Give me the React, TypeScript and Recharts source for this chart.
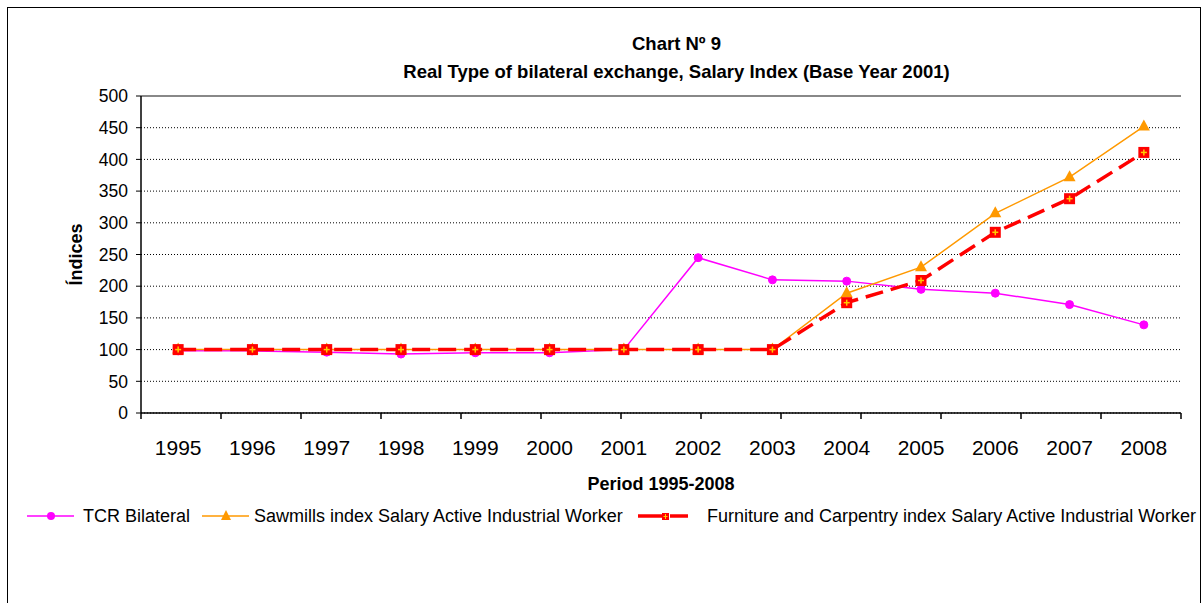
import { LineChart, Line, XAxis, YAxis, CartesianGrid, Legend, ReferenceLine } from "recharts";

const years = ["1995", "1996", "1997", "1998", "1999", "2000", "2001", "2002", "2003", "2004", "2005", "2006", "2007", "2008"];
const tcrBilateral = [98, 98, 96, 93, 95, 95, 100, 245, 210, 208, 195, 189, 171, 139];
const sawmills = [100, 100, 100, 100, 100, 100, 100, 100, 100, 189, 230, 315, 372, 452];
const furniture = [100, 100, 100, 100, 100, 100, 100, 100, 100, 174, 209, 285, 338, 411];
const yTicks = [0, 50, 100, 150, 200, 250, 300, 350, 400, 450, 500];

const seriesNames = {
  tcr: "TCR Bilateral",
  sawmills: "Sawmills index Salary Active Industrial Worker",
  furniture: "Furniture and Carpentry index Salary Active Industrial Worker",
};

const FONT = "'Liberation Sans', Arial, sans-serif";
const MAGENTA = "#FF00FF";
const ORANGE = "#FF9900";
const RED = "#FF0000";

const data = years.map((year, i) => ({
  pos: i + 0.5,
  year,
  tcr: tcrBilateral[i],
  sawmills: sawmills[i],
  furniture: furniture[i],
}));

// tick lines sit on the category edges, labels in the middle of each band
const bandEdges = Array.from({ length: years.length + 1 }, (_, i) => i);
const bandCenters = data.map((d) => d.pos);

function TriangleDot(props: any) {
  const { cx, cy } = props;
  if (cx == null || cy == null) return null;
  return <polygon points={`${cx},${cy - 7} ${cx + 6},${cy + 4} ${cx - 6},${cy + 4}`} fill={ORANGE} />;
}

function PlusSquareDot(props: any) {
  const { cx, cy } = props;
  if (cx == null || cy == null) return null;
  return (
    <g>
      <rect x={cx - 5.5} y={cy - 5.5} width={11} height={11} fill={RED} />
      <line x1={cx - 3} y1={cy} x2={cx + 3} y2={cy} stroke="#FFCC00" strokeWidth={1.5} />
      <line x1={cx} y1={cy - 3} x2={cx} y2={cy + 3} stroke="#FFCC00" strokeWidth={1.5} />
    </g>
  );
}

function LegendContent() {
  const text: any = { position: "absolute", top: 0, fontFamily: FONT, fontSize: 18, lineHeight: "20px", color: "#000", whiteSpace: "nowrap" };
  return (
    <div style={{ position: "relative", width: 1203, height: 20 }}>
      <svg style={{ position: "absolute", left: 27, top: 0 }} width={48} height={20}>
        <line x1={0} y1={10} x2={47} y2={10} stroke={MAGENTA} strokeWidth={1.5} />
        <circle cx={24} cy={10} r={4} fill={MAGENTA} />
      </svg>
      <span style={{ ...text, left: 83 }}>{seriesNames.tcr}</span>
      <svg style={{ position: "absolute", left: 202, top: 0 }} width={48} height={20}>
        <line x1={0} y1={10} x2={47} y2={10} stroke={ORANGE} strokeWidth={1.5} />
        <polygon points="24,4 29,14 19,14" fill={ORANGE} />
      </svg>
      <span style={{ ...text, left: 254 }}>{seriesNames.sawmills}</span>
      <svg style={{ position: "absolute", left: 638, top: 0 }} width={52} height={20}>
        <line x1={0} y1={10} x2={24} y2={10} stroke={RED} strokeWidth={3.5} />
        <line x1={32} y1={10} x2={50} y2={10} stroke={RED} strokeWidth={3.5} />
        <rect x={24} y={7} width={7} height={7} fill={RED} />
        <line x1={27.5} y1={8} x2={27.5} y2={13} stroke="#FFCC00" strokeWidth={1} />
        <line x1={25.5} y1={10.5} x2={29.5} y2={10.5} stroke="#FFCC00" strokeWidth={1} />
      </svg>
      <span style={{ ...text, left: 707 }}>{seriesNames.furniture}</span>
    </div>
  );
}

const titleStyle: any = {
  position: "absolute",
  left: 0,
  width: 1353,
  textAlign: "center",
  fontFamily: FONT,
  fontWeight: "bold",
  fontSize: 18.5,
  lineHeight: "22px",
};

export default function App() {
  return (
    <div style={{ position: "absolute", left: 0, top: 0, width: 1203, height: 603, overflow: "hidden", background: "#fff" }}>
      <div style={{ position: "absolute", left: 7, top: 7, width: 1192, height: 700, border: "1.5px solid #000" }} />
      <div style={{ ...titleStyle, top: 33 }}>Chart Nº 9</div>
      <div style={{ ...titleStyle, top: 61 }}>Real Type of bilateral exchange, Salary Index (Base Year 2001)</div>
      <div style={{ position: "absolute", left: 0, top: 0 }}>
        <LineChart width={1203} height={603} data={data} margin={{ top: 96, right: 22, left: 0, bottom: 90 }}>
          <CartesianGrid vertical={false} horizontal stroke="#000" strokeDasharray="1 2" xAxisId="b" />
          <XAxis
            xAxisId="b"
            type="number"
            domain={[0, years.length]}
            ticks={bandEdges}
            interval={0}
            tickFormatter={() => ""}
            tickSize={6}
            height={1}
            axisLine={{ stroke: "#000", strokeWidth: 1.5 }}
            tickLine={{ stroke: "#000", strokeWidth: 1.5 }}
          />
          <XAxis
            xAxisId="lab"
            dataKey="pos"
            type="number"
            domain={[0, years.length]}
            ticks={bandCenters}
            interval={0}
            tickFormatter={(v: number) => years[Math.floor(v)]}
            axisLine={false}
            tickLine={false}
            tickSize={0}
            tickMargin={26}
            height={79}
            tick={{ fill: "#000", fontSize: 21, fontFamily: FONT }}
            label={{ value: "Period 1995-2008", position: "insideBottom", offset: 3, style: { fill: "#000", fontSize: 18, fontWeight: "bold", fontFamily: FONT } }}
          />
          <YAxis
            type="number"
            domain={[0, 500]}
            ticks={yTicks}
            interval={0}
            width={141}
            tickSize={5}
            tickMargin={8}
            axisLine={{ stroke: "#000", strokeWidth: 1.5 }}
            tickLine={{ stroke: "#000", strokeWidth: 1 }}
            tick={{ fill: "#000", fontSize: 17.5, fontFamily: FONT }}
            label={{ value: "Índices", angle: -90, position: "center", dx: 5, style: { fill: "#000", fontSize: 18, fontWeight: "bold", fontFamily: FONT } }}
          />
          <ReferenceLine y={500} xAxisId="b" stroke="#888" strokeWidth={2} />
          <ReferenceLine x={years.length} xAxisId="b" stroke="#888" strokeWidth={2} />
          <Legend verticalAlign="bottom" content={<LegendContent />} wrapperStyle={{ top: 506, left: 0, width: 1203, height: 20 }} />
          <Line xAxisId="lab" dataKey="tcr" name={seriesNames.tcr} stroke={MAGENTA} strokeWidth={1.5} dot={{ r: 4, fill: MAGENTA, stroke: MAGENTA, strokeWidth: 1 }} isAnimationActive={false} />
          <Line xAxisId="lab" dataKey="sawmills" name={seriesNames.sawmills} stroke={ORANGE} strokeWidth={1.5} dot={<TriangleDot />} isAnimationActive={false} />
          <Line xAxisId="lab" dataKey="furniture" name={seriesNames.furniture} stroke={RED} strokeWidth={3.5} strokeDasharray="18 8" dot={<PlusSquareDot />} isAnimationActive={false} />
        </LineChart>
      </div>
    </div>
  );
}
